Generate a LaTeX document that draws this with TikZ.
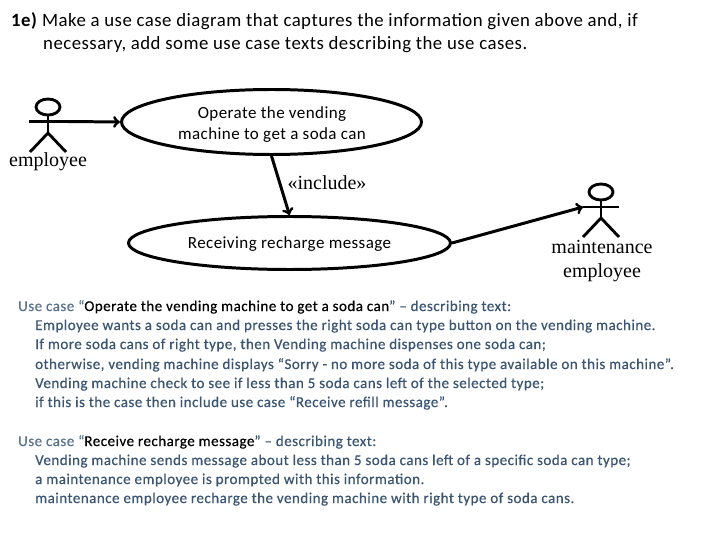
\documentclass[tikz,border=0pt]{standalone}
\usepackage{fontspec}
\setmainfont{Carlito}
\newfontfamily\actorfont{Liberation Serif}
\newfontfamily\spacedfont[LetterSpace=2.5]{Carlito}
\newfontfamily\bodyfont[LetterSpace=3.3,FakeBold=0.5]{Carlito}
\usetikzlibrary{arrows}
\usetikzlibrary{positioning}
\usetikzlibrary{shapes.geometric}
\definecolor{bodyblue}{HTML}{3A5575}
\definecolor{leadblue}{HTML}{5A7390}
\tikzset{
	usecase/.style={ellipse, draw, line width={1.05mm}, inner sep=0pt},
	casetext/.style={inner sep=0pt, align=center, font=\spacedfont\fontsize{17}{20.5}\selectfont},
	limb/.style={draw, line width={1mm}},
	link/.style={->, draw, line width={1.05mm}},
	titleline/.style={anchor=base west, inner sep=0pt, font=\spacedfont\fontsize{18.8}{20}\selectfont},
	textline/.style={anchor=base west, inner sep=0pt, text=bodyblue, font=\bodyfont\fontsize{15}{16}\selectfont},
	actorname/.style={inner sep=0pt, font=\actorfont\fontsize{20}{24}\selectfont, align=center},
	actorhead/.style={ellipse, limb, minimum width=24pt, minimum height=16pt, inner sep=0pt},
}
\begin{document}
\begin{tikzpicture}[x=1pt, y=-1pt]
	\useasboundingbox (0, 0) rectangle (720, 540);

	% title
	\node[titleline] (title1) at (11, 27) {\textbf{1e)} Make a use case diagram that captures the information given above and, if};
	\node[titleline] (title2) at (43, 50) {necessary, add some use case texts describing the use cases.};

	% use cases
	\node[usecase, minimum width=300pt, minimum height=65pt] (operate) at (271.5, 122) {};
	\node[casetext] (operatetext) at (272, 124.5) {Operate the vending\\machine to get a soda can};
	\node[usecase, minimum width=322pt, minimum height=53pt] (receive) at (289.5, 243) {};
	\node[casetext] (receivetext) at (289.5, 244) {Receiving recharge message};
	\node[actorname, anchor=base] (include) at (327, 190) {«include»};

	% actor on the left
	\begin{scope}[shift={(48, 107)}]
		\node[actorhead] (head1) at (0, 0) {};
		\coordinate (hip1) at (0, 26);
		\coordinate (armleft1) at (-19, 14.5);
		\coordinate (armright1) at (19, 14.5);
		\coordinate (footleft1) at (-18, 45);
		\coordinate (footright1) at (18, 45);
	\end{scope}
	\draw[limb] (head1) to (hip1);
	\draw[limb] (armleft1) to (armright1);
	\draw[limb] (footleft1) to (hip1) to (footright1);
	\node[actorname, anchor=base] (employee1) at (48, 167) {employee};

	% actor on the right
	\begin{scope}[shift={(601, 192)}]
		\node[actorhead] (head2) at (0, 0) {};
		\coordinate (hip2) at (0, 26);
		\coordinate (armleft2) at (-18, 15);
		\coordinate (armright2) at (18, 15);
		\coordinate (footleft2) at (-18, 45);
		\coordinate (footright2) at (18, 45);
	\end{scope}
	\draw[limb] (head2) to (hip2);
	\draw[limb] (armleft2) to (armright2);
	\draw[limb] (footleft2) to (hip2) to (footright2);
	\node[actorname, anchor=base] (employee2) at (602, 253) {maintenance};
	\node[actorname, anchor=base] (employee3) at (602, 277) {employee};

	% connectors
	\draw[link] (armright1) to (operate.west);
	\draw[link] (operate.south) to (receive.north);
	\draw[link] (receive.east) to (armleft2);

	% describing texts
	\node[textline] (text1) at (18, 311) {\textcolor{leadblue}{Use case “}\textcolor{black}{Operate the vending machine to get a soda can}” – describing text:};
	\node[textline] (text2) at (35, 330) {Employee wants a soda can and presses the right soda can type button on the vending machine.};
	\node[textline] (text3) at (35, 349) {If more soda cans of right type, then Vending machine dispenses one soda can;};
	\node[textline] (text4) at (35, 369) {otherwise, vending machine displays “Sorry - no more soda of this type available on this machine”.};
	\node[textline] (text5) at (35, 388) {Vending machine check to see if less than 5 soda cans left of the selected type;};
	\node[textline] (text6) at (35, 407) {if this is the case then include use case “Receive refill message”.};
	\node[textline] (text7) at (18, 446) {\textcolor{leadblue}{Use case “}\textcolor{black}{Receive recharge message}” – describing text:};
	\node[textline] (text8) at (35, 465) {Vending machine sends message about less than 5 soda cans left of a specific soda can type;};
	\node[textline] (text9) at (35, 484) {a maintenance employee is prompted with this information.};
	\node[textline] (text10) at (35, 503) {maintenance employee recharge the vending machine with right type of soda cans.};
\end{tikzpicture}
\end{document}
